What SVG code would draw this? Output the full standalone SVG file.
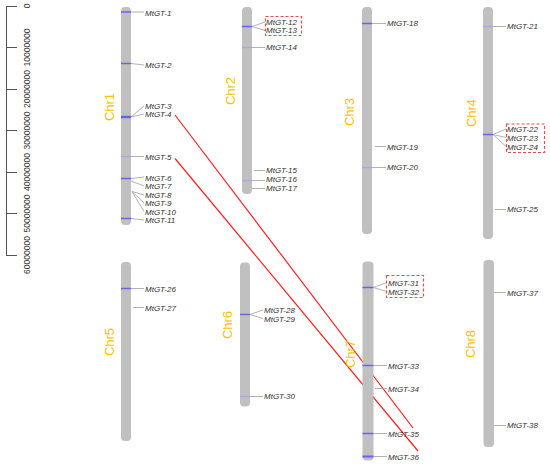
<svg xmlns="http://www.w3.org/2000/svg" width="550" height="469" viewBox="0 0 550 469">
<style>
.chr{fill:#c0c0c0}
.cl{font-family:"Liberation Sans",Arial,sans-serif;font-size:13px;fill:#ffc000;text-anchor:middle}
.g{font-family:"Liberation Sans",Arial,sans-serif;font-size:8px;font-style:italic;fill:#333}
.sc{font-family:"Liberation Sans",Arial,sans-serif;font-size:8.5px;fill:#333;text-anchor:middle}
.m{stroke:#6464f0;stroke-width:1.5}
.ml{stroke:#a8a8e8;stroke-width:1.5}
.c{stroke:#a0a0a0;stroke-width:0.8;fill:none}
.box{fill:none;stroke:#e05050;stroke-width:1.2;stroke-dasharray:3,2}
.ax{stroke:#555;stroke-width:1;fill:none}
.link{stroke:#ff2020;stroke-width:1.2;fill:none}
</style>
<g id="scale">
<path class="ax" d="M6.5,6V255M6,6.5H17M6,47.5H17M6,89.5H17M6,130.5H17M6,172.5H17M6,213.5H17M6,255.5H17"/>
<text class="sc" transform="translate(29.5,6) rotate(-90)">0</text>
<text class="sc" transform="translate(29.5,47.5) rotate(-90)">10000000</text>
<text class="sc" transform="translate(29.5,89) rotate(-90)">20000000</text>
<text class="sc" transform="translate(29.5,130.5) rotate(-90)">30000000</text>
<text class="sc" transform="translate(29.5,172) rotate(-90)">40000000</text>
<text class="sc" transform="translate(29.5,213.5) rotate(-90)">50000000</text>
<text class="sc" transform="translate(29.5,255) rotate(-90)">60000000</text>
</g>
<g id="connectors">
<line class="link" x1="175" y1="115" x2="413" y2="428"/>
<line class="link" x1="175" y1="158.5" x2="418" y2="451"/>
</g>
<g id="Chr1">
<rect class="chr" x="121" y="7" width="10" height="218" rx="4"/>
<text class="cl" transform="translate(113.5,107) rotate(-90)">Chr1</text>
<line class="m" x1="121" y1="12" x2="131" y2="12"/><path class="c" d="M131,12H144"/>
<line class="m" x1="121" y1="63.5" x2="131" y2="63.5"/><path class="c" d="M131,63.5L144,65"/>
<line class="m" x1="121" y1="117" x2="131" y2="117" style="stroke-width:2.5"/><path class="c" d="M131,117L144,106M131,117L144,114"/>
<line class="ml" x1="121" y1="156.5" x2="131" y2="156.5"/><path class="c" d="M131,156.5H144"/>
<line class="m" x1="121" y1="178.5" x2="131" y2="178.5"/><path class="c" d="M131,178.5L144,177M131,181L144,186"/>
<path class="c" d="M132,191.5L144,195M132,191.5L144,203M132,191.5L144,211.5"/>
<line class="m" x1="121" y1="218.5" x2="131" y2="218.5"/><path class="c" d="M131,218.5L144,220"/>
<text class="g" x="145" y="15.5">MtGT-1</text>
<text class="g" x="145" y="68">MtGT-2</text>
<text class="g" x="145" y="108.5">MtGT-3</text>
<text class="g" x="145" y="117">MtGT-4</text>
<text class="g" x="145" y="159.5">MtGT-5</text>
<text class="g" x="145" y="180.5">MtGT-6</text>
<text class="g" x="145" y="189">MtGT-7</text>
<text class="g" x="145" y="197.5">MtGT-8</text>
<text class="g" x="145" y="206">MtGT-9</text>
<text class="g" x="145" y="214.5">MtGT-10</text>
<text class="g" x="145" y="223">MtGT-11</text>
</g>
<g id="Chr2">
<rect class="chr" x="242" y="7" width="10" height="187" rx="4"/>
<text class="cl" transform="translate(235,91) rotate(-90)">Chr2</text>
<line class="m" x1="242" y1="26.5" x2="252" y2="26.5"/><path class="c" d="M252,26.5L265,22M252,26.5L265,30.5"/>
<line class="ml" x1="242" y1="47.5" x2="252" y2="47.5"/><path class="c" d="M252,47.5H265"/>
<path class="c" d="M254,170.5H265"/>
<line class="ml" x1="242" y1="180.5" x2="252" y2="180.5"/><path class="c" d="M252,180.5H265"/>
<path class="c" d="M252,188.5H265"/>
<rect class="box" x="265.5" y="16.5" width="36" height="19"/>
<text class="g" x="266" y="24.5">MtGT-12</text>
<text class="g" x="266" y="33">MtGT-13</text>
<text class="g" x="266" y="50">MtGT-14</text>
<text class="g" x="266" y="173">MtGT-15</text>
<text class="g" x="266" y="182">MtGT-16</text>
<text class="g" x="266" y="191">MtGT-17</text>
</g>
<g id="Chr3">
<rect class="chr" x="362" y="7" width="10" height="227" rx="4"/>
<text class="cl" transform="translate(354,112) rotate(-90)">Chr3</text>
<line class="m" x1="362" y1="23.5" x2="372" y2="23.5"/><path class="c" d="M372,23.5H386"/>
<path class="c" d="M375,146.5H386"/>
<line class="ml" x1="362" y1="167.5" x2="372" y2="167.5"/><path class="c" d="M372,167.5H386"/>
<text class="g" x="387" y="26">MtGT-18</text>
<text class="g" x="387" y="150">MtGT-19</text>
<text class="g" x="387" y="170">MtGT-20</text>
</g>
<g id="Chr4">
<rect class="chr" x="483" y="7" width="10" height="232" rx="4"/>
<text class="cl" transform="translate(476,113) rotate(-90)">Chr4</text>
<line class="ml" x1="483" y1="26.5" x2="493" y2="26.5"/><path class="c" d="M493,26.5H506"/>
<line class="m" x1="483" y1="134.5" x2="493" y2="134.5"/><path class="c" d="M493,134.5L506,129M493,134.5L506,137.5M493,134.5L506,146.5"/>
<path class="c" d="M495,209.5H506"/>
<rect class="box" x="506.5" y="124" width="38" height="28.5"/>
<text class="g" x="507" y="29">MtGT-21</text>
<text class="g" x="507" y="131.5">MtGT-22</text>
<text class="g" x="507" y="140.5">MtGT-23</text>
<text class="g" x="507" y="149.5">MtGT-24</text>
<text class="g" x="507" y="212">MtGT-25</text>
</g>
<g id="Chr5">
<rect class="chr" x="121" y="262" width="10" height="179" rx="4"/>
<text class="cl" transform="translate(113.5,342) rotate(-90)">Chr5</text>
<line class="m" x1="121" y1="288.5" x2="131" y2="288.5"/><path class="c" d="M131,288.5H144"/>
<path class="c" d="M133,307.5H144"/>
<text class="g" x="145" y="291.5">MtGT-26</text>
<text class="g" x="145" y="310.5">MtGT-27</text>
</g>
<g id="Chr6">
<rect class="chr" x="240" y="262.5" width="10" height="144" rx="4"/>
<text class="cl" transform="translate(232,325) rotate(-90)">Chr6</text>
<line class="m" x1="240" y1="314.5" x2="250" y2="314.5"/><path class="c" d="M250,314.5L263,310M250,314.5L263,318.5"/>
<line class="ml" x1="240" y1="396.5" x2="250" y2="396.5"/><path class="c" d="M250,396.5H263"/>
<text class="g" x="264" y="313">MtGT-28</text>
<text class="g" x="264" y="321.5">MtGT-29</text>
<text class="g" x="264" y="399">MtGT-30</text>
</g>
<g id="Chr7">
<rect class="chr" x="362.5" y="261.5" width="11" height="199" rx="4"/>
<text class="cl" transform="translate(355,354) rotate(-90)">Chr7</text>
<line class="m" x1="362.5" y1="287.5" x2="373.5" y2="287.5"/><path class="c" d="M373.5,287.5L387,282.5M373.5,287.5L387,291.5"/>
<line class="m" x1="362.5" y1="365.5" x2="373.5" y2="365.5"/><path class="c" d="M373.5,365.5H387"/>
<path class="c" d="M375,388.5H387"/>
<line class="m" x1="362.5" y1="433.5" x2="373.5" y2="433.5"/><path class="c" d="M373.5,433.5H387"/>
<line class="m" x1="362.5" y1="456.5" x2="373.5" y2="456.5" style="stroke-width:2"/><path class="c" d="M373.5,456.5H387"/>
<rect class="box" x="386.5" y="275.5" width="37" height="22"/>
<text class="g" x="388" y="285.5">MtGT-31</text>
<text class="g" x="388" y="294.5">MtGT-32</text>
<text class="g" x="388" y="368.5">MtGT-33</text>
<text class="g" x="388" y="391.5">MtGT-34</text>
<text class="g" x="388" y="436.5">MtGT-35</text>
<text class="g" x="388" y="460">MtGT-36</text>
</g>
<g id="Chr8">
<rect class="chr" x="483.5" y="260" width="10.5" height="187" rx="4"/>
<text class="cl" transform="translate(475,344) rotate(-90)">Chr8</text>
<path class="c" d="M494,292.5H506"/>
<path class="c" d="M494,425.5H506"/>
<text class="g" x="507" y="296">MtGT-37</text>
<text class="g" x="507" y="428">MtGT-38</text>
</g>
</svg>
